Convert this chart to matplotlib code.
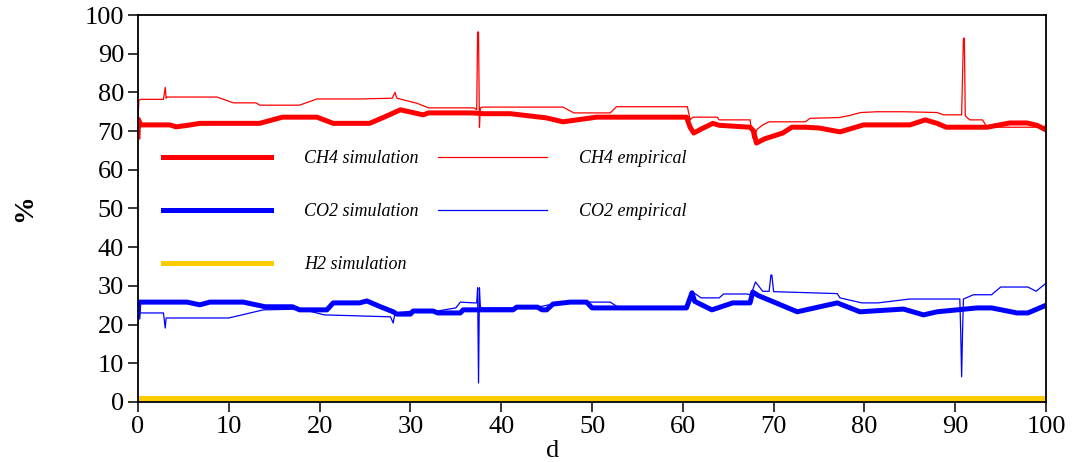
import matplotlib.pyplot as plt

plt.rcParams['font.family'] = ['Liberation Serif', 'DejaVu Serif']

# CH4 simulation (thick red)
ch4_sim_d = [0, 0.05, 0.3, 3.5, 4.2, 5.5, 6.8, 13.4, 15.9, 19.7, 21.5, 24.4, 25.5, 27, 28.9,
             31.4, 32, 36.8, 38, 41, 45, 46.8, 50.5, 60.4, 60.8, 61.2, 62, 63.3, 64, 67.4,
             67.8, 68.1, 69, 71, 72, 73.5, 75, 77.3, 79.9, 85, 86.7, 88, 89, 93.5, 96, 97.9,
             99, 100]
ch4_sim = [68.5, 73, 71.6, 71.6, 71.1, 71.5, 72, 72, 73.6, 73.6, 72, 72, 72, 73.5, 75.5,
           74.2, 74.7, 74.7, 74.5, 74.5, 73.4, 72.4, 73.6, 73.6, 71, 69.5, 70.5, 72, 71.5, 71,
           70, 66.9, 68, 69.5, 71, 71, 70.8, 69.8, 71.6, 71.6, 72.9, 72, 71, 71, 72.1, 72.1,
           71.5, 70.3]

# CH4 empirical (thin red)
ch4_emp_d = [0, 0.1, 0.3, 2.8, 3.0, 3.1, 3.2, 8.7, 10.5, 13, 13.4, 17.8, 19.7, 24.4, 28,
             28.3, 28.5, 30.7, 32, 37, 37.3, 37.4, 37.5, 37.6, 37.7, 38, 46.8, 48, 52, 52.7,
             60.5, 60.8, 61.1, 63.8, 64, 67.4, 67.7, 68.2, 68.8, 69.5, 73.5, 74, 77.2, 78.3,
             79.6, 81.4, 84.3, 88, 88.7, 90.7, 90.9, 91.0, 91.1, 91.3, 91.6, 93, 93.5, 99.7,
             100]
ch4_emp = [73.5, 78, 78.2, 78.2, 81.3, 78.5, 78.8, 78.8, 77.3, 77.3, 76.7, 76.7, 78.3, 78.3,
           78.5, 80, 78.5, 77.2, 76, 76, 75.5, 95.6, 95.6, 71, 76, 76.2, 76.2, 74.7, 74.7,
           76.3, 76.3, 72.9, 73.6, 73.6, 72.9, 72.9, 68.2, 70.5, 71.6, 72.4, 72.4, 73.3, 73.5,
           74, 74.8, 75, 75, 74.8, 74.2, 74.2, 94, 94, 74, 73.5, 72.9, 72.9, 71, 71, 71.5]

# CO2 simulation (thick blue)
co2_sim_d = [0, 0.1, 5.4, 6.8, 7.9, 11.6, 14, 17, 17.8, 20.8, 21.5, 24.4, 25.2, 26.7, 28.1,
             28.5, 30, 30.3, 32.5, 33, 35.5, 35.8, 41.3, 41.7, 44, 44.5, 45, 45.7, 47.6, 49.4,
             50, 60.4, 61.0, 61.3, 63.2, 65.5, 67.4, 67.7, 68.3, 72.6, 77, 79.5, 84.3, 86.5,
             88, 92.4, 94, 96.8, 98, 100]
co2_sim = [22, 25.8, 25.8, 25.1, 25.8, 25.8, 24.6, 24.6, 23.8, 23.8, 25.6, 25.6, 26.1, 24.6,
           23.3, 22.7, 22.7, 23.5, 23.5, 23, 23, 23.8, 23.8, 24.5, 24.5, 23.8, 23.8, 25.3,
           25.8, 25.8, 24.3, 24.3, 28.2, 26, 23.8, 25.6, 25.6, 28.4, 27.5, 23.3, 25.6, 23.3,
           24, 22.5, 23.3, 24.3, 24.3, 23, 23, 25]

# CO2 empirical (thin blue)
co2_emp_d = [0, 0.1, 0.2, 2.8, 3.0, 3.1, 3.2, 10, 13.8, 18, 20.5, 27.8, 28.1, 28.3, 30.3,
             33, 35, 35.5, 37, 37.3, 37.4, 37.5, 37.6, 37.7, 38, 41, 44, 45.7, 47.6, 49.4,
             52, 53, 60.4, 61.1, 62, 64, 64.5, 67, 67.5, 68, 68.8, 69.5, 69.7, 69.8, 70, 77,
             77.3, 79.7, 81.5, 85, 88.5, 90.5, 90.6, 90.7, 90.8, 90.9, 92, 94, 95, 98, 98.9,
             100]
co2_emp = [19.9, 23, 23, 23, 19.1, 21.7, 21.7, 21.7, 23.8, 24, 22.5, 22, 20.4, 23, 23.5,
           23.5, 24.3, 25.8, 25.6, 25.6, 29.5, 4.9, 29.5, 24.5, 24.3, 24.3, 24.5, 25.3, 25.8,
           25.8, 25.8, 24.3, 24.3, 28.4, 26.9, 26.9, 27.9, 27.9, 27.7, 31, 28.6, 28.6, 32.8,
           32.8, 28.5, 28, 26.9, 25.6, 25.6, 26.6, 26.6, 26.6, 18, 6.5, 18, 26.6, 27.7, 27.7,
           29.7, 29.7, 28.6, 30.7]

# H2 simulation (yellow, stays near zero)
h2_sim_d = [0, 100]
h2_sim = [0.9, 0.9]

x_ticks = list(range(0, 101, 10))
y_ticks = list(range(0, 101, 10))

fig = plt.figure(figsize=(10.74, 4.62), dpi=100)
ax = fig.add_axes([0.1285, 0.13, 0.8455, 0.8375])

ax.plot(ch4_sim_d, ch4_sim, color='#ff0000', lw=3.6, label='CH4 simulation')
ax.plot(co2_sim_d, co2_sim, color='#0000ff', lw=3.6, label='CO2 simulation')
ax.plot(h2_sim_d, h2_sim, color='#ffcc00', lw=3.6, label='H2 simulation')
ax.plot(ch4_emp_d, ch4_emp, color='#ff0000', lw=0.9, label='CH4 empirical')
ax.plot(co2_emp_d, co2_emp, color='#0000ff', lw=0.9, label='CO2 empirical')

ax.set_xlim(0, 100)
ax.set_ylim(0, 100)
ax.set_xticks(x_ticks)
ax.set_yticks(y_ticks)
ax.tick_params(direction='out', length=7, width=1.1, labelsize=19, pad=3)
for s in ax.spines.values():
    s.set_linewidth(1.3)

ax.set_ylabel('%', fontsize=20, fontweight='bold', labelpad=34)
fig.text(553 / 1074, 1 - 451 / 462, 'd', fontsize=19, ha='center', va='center')

leg = ax.legend(ncol=2, loc='upper left', bbox_to_anchor=(0.0275, 0.651),
                frameon=False, prop={'style': 'italic', 'size': 13},
                handlelength=6.0, handletextpad=1.8, columnspacing=1.1,
                labelspacing=2.0, borderpad=0, borderaxespad=0)

fig.savefig('out.png', dpi=100)
